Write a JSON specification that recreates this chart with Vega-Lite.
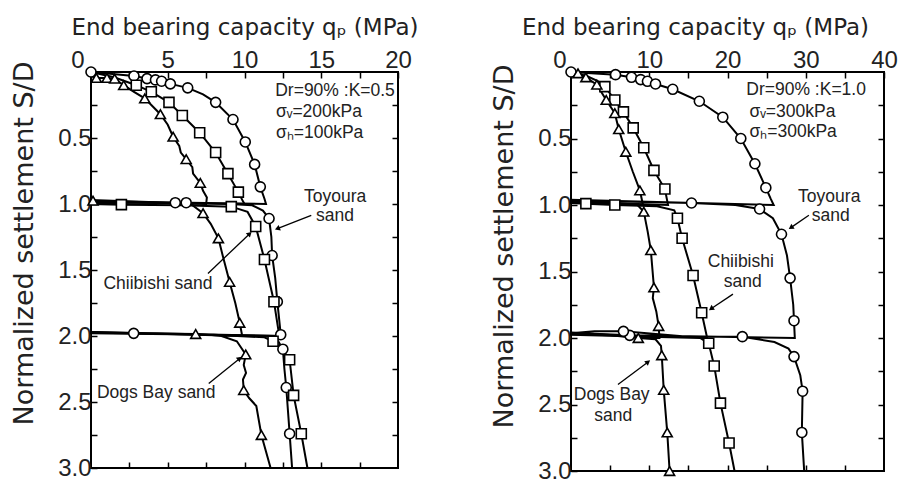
{
"$schema":"https://vega.github.io/schema/vega-lite/v6.json",
"padding":{"left":9,"top":15,"right":5,"bottom":3},
"background":"white",
"config":{"view":{"stroke":"black","strokeWidth":2},"font":"Liberation Sans",
"axis":{"labelFont":"Liberation Sans","labelColor":"#222","titleColor":"#222","labelFontSize":24,"tickColor":"black","tickWidth":1.5,"tickSize":-6,"domain":false,"grid":false,"labelOverlap":false,"titleFont":"DejaVu Sans","titleFontWeight":"normal"}},
"datasets":{
"L":[
{"s":"T","i":1,"x":0,"y":0,"m":1},{"s":"T","i":2,"x":2.8,"y":0.03,"m":1},{"s":"T","i":3,"x":3.65,"y":0.05,"m":1},{"s":"T","i":4,"x":4.2,"y":0.06,"m":1},{"s":"T","i":5,"x":4.6,"y":0.07,"m":1},{"s":"T","i":6,"x":5.17,"y":0.09,"m":1},{"s":"T","i":7,"x":6.3,"y":0.12,"m":1},{"s":"T","i":8,"x":7.3,"y":0.17,"m":0},{"s":"T","i":9,"x":8.12,"y":0.23,"m":1},{"s":"T","i":10,"x":9.25,"y":0.36,"m":1},{"s":"T","i":11,"x":10.05,"y":0.53,"m":1},{"s":"T","i":12,"x":10.66,"y":0.7,"m":1},{"s":"T","i":13,"x":11.03,"y":0.87,"m":1},{"s":"T","i":14,"x":11.3,"y":0.96,"m":0},{"s":"T","i":15,"x":11.4,"y":1.0,"m":0},{"s":"T","i":16,"x":0,"y":0.98,"m":0},{"s":"T","i":17,"x":0,"y":0.995,"m":0},{"s":"T","i":18,"x":3,"y":0.99,"m":0},{"s":"T","i":19,"x":5.49,"y":0.99,"m":1},{"s":"T","i":20,"x":6.2,"y":0.99,"m":1},{"s":"T","i":21,"x":9,"y":1.0,"m":0},{"s":"T","i":22,"x":10.5,"y":1.01,"m":0},{"s":"T","i":23,"x":11.2,"y":1.05,"m":0},{"s":"T","i":24,"x":11.6,"y":1.11,"m":1},{"s":"T","i":25,"x":11.75,"y":1.25,"m":0},{"s":"T","i":26,"x":11.8,"y":1.39,"m":1},{"s":"T","i":27,"x":12.0,"y":1.56,"m":0},{"s":"T","i":28,"x":12.14,"y":1.74,"m":1},{"s":"T","i":29,"x":12.36,"y":1.99,"m":1},{"s":"T","i":30,"x":12.4,"y":2.0,"m":0},{"s":"T","i":31,"x":0,"y":1.97,"m":0},{"s":"T","i":32,"x":0,"y":1.975,"m":0},{"s":"T","i":33,"x":2.78,"y":1.98,"m":1},{"s":"T","i":34,"x":8,"y":1.99,"m":0},{"s":"T","i":35,"x":11.5,"y":2.0,"m":0},{"s":"T","i":36,"x":12.2,"y":2.04,"m":0},{"s":"T","i":37,"x":12.5,"y":2.1,"m":1},{"s":"T","i":38,"x":12.6,"y":2.25,"m":0},{"s":"T","i":39,"x":12.72,"y":2.39,"m":1},{"s":"T","i":40,"x":12.94,"y":2.74,"m":1},{"s":"T","i":41,"x":13.1,"y":3.0,"m":0},
{"s":"C","i":1,"x":0,"y":0,"m":0},{"s":"C","i":2,"x":1.5,"y":0.04,"m":0},{"s":"C","i":3,"x":2.95,"y":0.1,"m":1},{"s":"C","i":4,"x":3.93,"y":0.15,"m":1},{"s":"C","i":5,"x":5.08,"y":0.23,"m":1},{"s":"C","i":6,"x":5.95,"y":0.33,"m":1},{"s":"C","i":7,"x":7.08,"y":0.46,"m":1},{"s":"C","i":8,"x":8.12,"y":0.61,"m":1},{"s":"C","i":9,"x":8.92,"y":0.77,"m":1},{"s":"C","i":10,"x":9.6,"y":0.91,"m":1},{"s":"C","i":11,"x":9.9,"y":0.98,"m":0},{"s":"C","i":12,"x":10.0,"y":1.0,"m":0},{"s":"C","i":13,"x":0,"y":0.985,"m":0},{"s":"C","i":14,"x":0,"y":1.0,"m":0},{"s":"C","i":15,"x":1.98,"y":1.005,"m":1},{"s":"C","i":16,"x":6,"y":1.01,"m":0},{"s":"C","i":17,"x":9.14,"y":1.02,"m":1},{"s":"C","i":18,"x":10.2,"y":1.06,"m":0},{"s":"C","i":19,"x":10.73,"y":1.17,"m":1},{"s":"C","i":20,"x":11.3,"y":1.42,"m":1},{"s":"C","i":21,"x":11.92,"y":1.74,"m":1},{"s":"C","i":22,"x":12.2,"y":1.95,"m":0},{"s":"C","i":23,"x":12.3,"y":2.0,"m":0},{"s":"C","i":24,"x":0,"y":1.975,"m":0},{"s":"C","i":25,"x":0,"y":1.98,"m":0},{"s":"C","i":26,"x":8,"y":1.99,"m":0},{"s":"C","i":27,"x":11.3,"y":2.01,"m":0},{"s":"C","i":28,"x":11.86,"y":2.04,"m":1},{"s":"C","i":29,"x":12.4,"y":2.09,"m":0},{"s":"C","i":30,"x":12.94,"y":2.18,"m":1},{"s":"C","i":31,"x":13.2,"y":2.45,"m":1},{"s":"C","i":32,"x":13.7,"y":2.74,"m":1},{"s":"C","i":33,"x":14.1,"y":3.0,"m":0},
{"s":"D","i":1,"x":0,"y":0.03,"m":0},{"s":"D","i":2,"x":0.35,"y":0.045,"m":1},{"s":"D","i":3,"x":1.04,"y":0.045,"m":1},{"s":"D","i":4,"x":1.54,"y":0.05,"m":1},{"s":"D","i":5,"x":2.13,"y":0.1,"m":1},{"s":"D","i":6,"x":2.8,"y":0.15,"m":0},{"s":"D","i":7,"x":3.5,"y":0.2,"m":1},{"s":"D","i":8,"x":4.52,"y":0.32,"m":1},{"s":"D","i":9,"x":5.0,"y":0.4,"m":0},{"s":"D","i":10,"x":5.35,"y":0.49,"m":1},{"s":"D","i":11,"x":5.75,"y":0.56,"m":0},{"s":"D","i":12,"x":5.85,"y":0.61,"m":0},{"s":"D","i":13,"x":6.2,"y":0.66,"m":1},{"s":"D","i":14,"x":6.6,"y":0.72,"m":0},{"s":"D","i":15,"x":6.65,"y":0.77,"m":0},{"s":"D","i":16,"x":7.12,"y":0.84,"m":1},{"s":"D","i":17,"x":7.3,"y":0.9,"m":0},{"s":"D","i":18,"x":7.55,"y":0.95,"m":0},{"s":"D","i":19,"x":7.5,"y":1.0,"m":0},{"s":"D","i":20,"x":0,"y":0.97,"m":0},{"s":"D","i":21,"x":0.13,"y":0.975,"m":1},{"s":"D","i":22,"x":4,"y":0.99,"m":0},{"s":"D","i":23,"x":6.5,"y":1.0,"m":0},{"s":"D","i":24,"x":7.3,"y":1.07,"m":1},{"s":"D","i":25,"x":7.8,"y":1.15,"m":0},{"s":"D","i":26,"x":8.3,"y":1.26,"m":1},{"s":"D","i":27,"x":8.6,"y":1.4,"m":0},{"s":"D","i":28,"x":9.03,"y":1.59,"m":1},{"s":"D","i":29,"x":9.4,"y":1.75,"m":0},{"s":"D","i":30,"x":9.69,"y":1.9,"m":1},{"s":"D","i":31,"x":9.85,"y":2.0,"m":0},{"s":"D","i":32,"x":0,"y":1.97,"m":0},{"s":"D","i":33,"x":3,"y":1.98,"m":0},{"s":"D","i":34,"x":6.82,"y":1.985,"m":1},{"s":"D","i":35,"x":8.5,"y":2.0,"m":0},{"s":"D","i":36,"x":9.5,"y":2.04,"m":0},{"s":"D","i":37,"x":10.08,"y":2.14,"m":1},{"s":"D","i":38,"x":9.95,"y":2.22,"m":0},{"s":"D","i":39,"x":10.1,"y":2.28,"m":0},{"s":"D","i":40,"x":9.9,"y":2.33,"m":0},{"s":"D","i":41,"x":9.95,"y":2.41,"m":1},{"s":"D","i":42,"x":10.3,"y":2.47,"m":0},{"s":"D","i":43,"x":10.77,"y":2.53,"m":0},{"s":"D","i":44,"x":11.1,"y":2.75,"m":1},{"s":"D","i":45,"x":11.7,"y":3.0,"m":0}
],
"R":[
{"s":"T","i":1,"x":0,"y":0,"m":1},{"s":"T","i":2,"x":5.69,"y":0.02,"m":1},{"s":"T","i":3,"x":7.73,"y":0.04,"m":1},{"s":"T","i":4,"x":8.9,"y":0.057,"m":1},{"s":"T","i":5,"x":9.77,"y":0.07,"m":1},{"s":"T","i":6,"x":10.8,"y":0.09,"m":1},{"s":"T","i":7,"x":13.0,"y":0.13,"m":1},{"s":"T","i":8,"x":16.4,"y":0.22,"m":1},{"s":"T","i":9,"x":19.4,"y":0.34,"m":1},{"s":"T","i":10,"x":21.7,"y":0.5,"m":1},{"s":"T","i":11,"x":23.5,"y":0.69,"m":1},{"s":"T","i":12,"x":24.9,"y":0.87,"m":1},{"s":"T","i":13,"x":25.5,"y":0.95,"m":0},{"s":"T","i":14,"x":25.9,"y":1.0,"m":0},{"s":"T","i":15,"x":0,"y":0.96,"m":0},{"s":"T","i":16,"x":0,"y":0.97,"m":0},{"s":"T","i":17,"x":8,"y":0.975,"m":0},{"s":"T","i":18,"x":15.4,"y":0.985,"m":1},{"s":"T","i":19,"x":21,"y":1.0,"m":0},{"s":"T","i":20,"x":24.1,"y":1.03,"m":1},{"s":"T","i":21,"x":25.8,"y":1.1,"m":0},{"s":"T","i":22,"x":26.9,"y":1.22,"m":1},{"s":"T","i":23,"x":27.6,"y":1.38,"m":0},{"s":"T","i":24,"x":28.0,"y":1.55,"m":1},{"s":"T","i":25,"x":28.4,"y":1.75,"m":0},{"s":"T","i":26,"x":28.5,"y":1.87,"m":1},{"s":"T","i":27,"x":28.6,"y":2.0,"m":0},{"s":"T","i":28,"x":7.5,"y":1.98,"m":1},{"s":"T","i":29,"x":0,"y":1.96,"m":0},{"s":"T","i":30,"x":0,"y":1.965,"m":0},{"s":"T","i":31,"x":3,"y":1.95,"m":0},{"s":"T","i":32,"x":6.7,"y":1.95,"m":1},{"s":"T","i":33,"x":15,"y":1.99,"m":0},{"s":"T","i":34,"x":21.9,"y":1.99,"m":1},{"s":"T","i":35,"x":26,"y":2.03,"m":0},{"s":"T","i":36,"x":27.8,"y":2.08,"m":0},{"s":"T","i":37,"x":28.5,"y":2.14,"m":1},{"s":"T","i":38,"x":29.3,"y":2.28,"m":0},{"s":"T","i":39,"x":29.6,"y":2.4,"m":1},{"s":"T","i":40,"x":29.5,"y":2.71,"m":1},{"s":"T","i":41,"x":29.8,"y":3.0,"m":0},
{"s":"C","i":1,"x":0,"y":0,"m":0},{"s":"C","i":2,"x":2,"y":0.03,"m":0},{"s":"C","i":3,"x":3.5,"y":0.07,"m":0},{"s":"C","i":4,"x":4.33,"y":0.11,"m":1},{"s":"C","i":5,"x":5.6,"y":0.21,"m":1},{"s":"C","i":6,"x":6.7,"y":0.3,"m":1},{"s":"C","i":7,"x":7.95,"y":0.42,"m":1},{"s":"C","i":8,"x":9.3,"y":0.57,"m":1},{"s":"C","i":9,"x":10.6,"y":0.74,"m":1},{"s":"C","i":10,"x":12.0,"y":0.88,"m":1},{"s":"C","i":11,"x":12.4,"y":1.0,"m":0},{"s":"C","i":12,"x":0,"y":0.975,"m":0},{"s":"C","i":13,"x":0,"y":0.985,"m":0},{"s":"C","i":14,"x":1.9,"y":0.99,"m":1},{"s":"C","i":15,"x":5.6,"y":1.0,"m":1},{"s":"C","i":16,"x":11,"y":1.01,"m":0},{"s":"C","i":17,"x":13.2,"y":1.04,"m":0},{"s":"C","i":18,"x":13.6,"y":1.1,"m":1},{"s":"C","i":19,"x":14.2,"y":1.25,"m":1},{"s":"C","i":20,"x":15.6,"y":1.53,"m":1},{"s":"C","i":21,"x":16.7,"y":1.81,"m":1},{"s":"C","i":22,"x":17.4,"y":2.0,"m":0},{"s":"C","i":23,"x":0,"y":1.97,"m":0},{"s":"C","i":24,"x":0,"y":1.975,"m":0},{"s":"C","i":25,"x":10,"y":1.99,"m":0},{"s":"C","i":26,"x":16.5,"y":2.0,"m":0},{"s":"C","i":27,"x":17.6,"y":2.04,"m":1},{"s":"C","i":28,"x":18.3,"y":2.21,"m":1},{"s":"C","i":29,"x":19.1,"y":2.49,"m":1},{"s":"C","i":30,"x":20.2,"y":2.79,"m":1},{"s":"C","i":31,"x":20.9,"y":3.0,"m":0},
{"s":"D","i":1,"x":0,"y":0,"m":0},{"s":"D","i":2,"x":0.9,"y":0.01,"m":1},{"s":"D","i":3,"x":1.9,"y":0.04,"m":1},{"s":"D","i":4,"x":3.3,"y":0.095,"m":1},{"s":"D","i":5,"x":4.5,"y":0.21,"m":1},{"s":"D","i":6,"x":5.6,"y":0.31,"m":1},{"s":"D","i":7,"x":6.1,"y":0.43,"m":1},{"s":"D","i":8,"x":7.0,"y":0.6,"m":1},{"s":"D","i":9,"x":7.9,"y":0.75,"m":0},{"s":"D","i":10,"x":8.8,"y":0.89,"m":1},{"s":"D","i":11,"x":9.2,"y":1.0,"m":0},{"s":"D","i":12,"x":0,"y":0.965,"m":0},{"s":"D","i":13,"x":0,"y":0.975,"m":0},{"s":"D","i":14,"x":5,"y":0.99,"m":0},{"s":"D","i":15,"x":8.5,"y":1.0,"m":0},{"s":"D","i":16,"x":9.3,"y":1.05,"m":1},{"s":"D","i":17,"x":9.8,"y":1.2,"m":0},{"s":"D","i":18,"x":10.2,"y":1.34,"m":1},{"s":"D","i":19,"x":10.6,"y":1.62,"m":1},{"s":"D","i":20,"x":10.45,"y":1.7,"m":0},{"s":"D","i":21,"x":10.9,"y":1.8,"m":0},{"s":"D","i":22,"x":11.2,"y":1.91,"m":1},{"s":"D","i":23,"x":11.3,"y":2.0,"m":0},{"s":"D","i":24,"x":0,"y":1.96,"m":0},{"s":"D","i":25,"x":0,"y":1.97,"m":0},{"s":"D","i":26,"x":5,"y":1.98,"m":0},{"s":"D","i":27,"x":8.6,"y":2.0,"m":1},{"s":"D","i":28,"x":10.8,"y":2.01,"m":0},{"s":"D","i":29,"x":11.5,"y":2.06,"m":0},{"s":"D","i":30,"x":11.6,"y":2.13,"m":1},{"s":"D","i":31,"x":11.85,"y":2.39,"m":1},{"s":"D","i":32,"x":12.3,"y":2.71,"m":1},{"s":"D","i":33,"x":12.6,"y":3.0,"m":1}
],
"LBox":[{"x":12.0,"y":0.147,"t":"Dr=90% :K=0.5"},{"x":12.05,"y":0.3,"t":"σᵥ=200kPa"},{"x":12.05,"y":0.46,"t":"σₕ=100kPa"}],
"LLab":[{"x":15.9,"y":0.947,"t":"Toyoura"},{"x":15.9,"y":1.093,"t":"sand"},{"x":4.36,"y":1.607,"t":"Chiibishi sand"},{"x":4.25,"y":2.43,"t":"Dogs Bay sand"}],
"LArr":[{"x":14.35,"y":1.086,"x2":12.14,"y2":1.187,"a":248.6},{"x":7.62,"y":1.526,"x2":10.34,"y2":1.225,"a":46.4},{"x":7.67,"y":2.36,"x2":9.69,"y2":2.17,"a":51.1}],
"RBox":[{"x":22.4,"y":0.134,"t":"Dr=90% :K=1.0"},{"x":22.8,"y":0.3,"t":"σᵥ=300kPa"},{"x":22.8,"y":0.45,"t":"σₕ=300kPa"}],
"RLab":[{"x":33.0,"y":0.94,"t":"Toyoura"},{"x":33.2,"y":1.08,"t":"sand"},{"x":21.7,"y":1.43,"t":"Chiibishi"},{"x":21.95,"y":1.58,"t":"sand"},{"x":5.2,"y":2.43,"t":"Dogs Bay"},{"x":5.4,"y":2.59,"t":"sand"}],
"RArr":[{"x":30.4,"y":1.077,"x2":28.1,"y2":1.17,"a":236},{"x":20.7,"y":1.67,"x2":17.9,"y2":1.78,"a":235},{"x":6.0,"y":2.35,"x2":9.85,"y2":2.18,"a":52}]
},
"spacing":69,
"hconcat":[
{
"width":307,"height":396,
"resolve":{"scale":{"x":"independent","y":"independent"}},
"layer":[
{
"encoding":{
"x":{"field":"x","type":"quantitative","scale":{"domain":[0,20],"nice":false,"zero":false},
"axis":{"orient":"top","values":[0,2.5,5,7.5,10,12.5,15,17.5,20],"labelExpr":"datum.value % 5 == 0 ? datum.label : ''","labelPadding":6,"labelAlign":{"condition":{"test":"datum.value == 0","value":"right"},"value":"center"},"labelOffset":{"condition":{"test":"datum.value == 0","value":-7},"value":0},"title":"End bearing capacity qₚ (MPa)","titleFontSize":23,"titlePadding":9}},
"y":{"field":"y","type":"quantitative","scale":{"domain":[0,3],"reverse":true,"nice":false,"zero":false},
"axis":{"orient":"left","values":[0,0.25,0.5,0.75,1,1.25,1.5,1.75,2,2.25,2.5,2.75,3],"labelExpr":"datum.value > 0 && (datum.value*2) % 1 == 0 ? format(datum.value,'.1f') : ''","labelPadding":6,"title":"Normalized settlement S/D","titleFontSize":27,"titlePadding":19,"titleY":171}}
},
"layer":[
{"data":{"name":"L"},"mark":{"type":"line","color":"black","strokeWidth":2},"encoding":{"detail":{"field":"s"},"order":{"field":"i","type":"quantitative"}}},
{"data":{"name":"L"},"transform":[{"filter":"datum.m == 1"}],"mark":{"type":"point","filled":true,"fill":"white","stroke":"black","strokeWidth":1.6,"size":100,"opacity":1},"encoding":{"shape":{"field":"s","type":"nominal","scale":{"domain":["T","C","D"],"range":["circle","square","triangle-up"]},"legend":null}}},
{"data":{"name":"LBox"},"mark":{"type":"text","align":"left","baseline":"middle","fontSize":17.5,"color":"#222"},"encoding":{"text":{"field":"t"}}},
{"data":{"name":"LLab"},"mark":{"type":"text","align":"center","baseline":"middle","fontSize":17.5,"color":"#222"},"encoding":{"text":{"field":"t"}}},
{"data":{"name":"LArr"},"mark":{"type":"rule","color":"black","strokeWidth":1.3},"encoding":{"x2":{"field":"x2"},"y2":{"field":"y2"}}},
{"data":{"name":"LArr"},"mark":{"type":"point","shape":"triangle-up","filled":true,"color":"black","size":35,"opacity":1},"encoding":{"x":{"field":"x2","type":"quantitative"},"y":{"field":"y2","type":"quantitative"},"angle":{"field":"a","type":"quantitative","scale":null}}}
]
},
{
"data":{"name":"L"},
"mark":{"type":"point","opacity":0},
"encoding":{
"x":{"field":"x","type":"quantitative","scale":{"domain":[0,20],"nice":false,"zero":false},"axis":{"orient":"bottom","values":[2.5,5,7.5,10,12.5,15,17.5],"labels":false,"title":null}},
"y":{"field":"y","type":"quantitative","scale":{"domain":[0,3],"reverse":true,"nice":false,"zero":false},"axis":{"orient":"right","values":[0.25,0.5,0.75,1,1.25,1.5,1.75,2,2.25,2.5,2.75],"labels":false,"title":null}}
}
}
]
},
{
"width":313,"height":399,
"resolve":{"scale":{"x":"independent","y":"independent"}},
"layer":[
{
"encoding":{
"x":{"field":"x","type":"quantitative","scale":{"domain":[0,40],"nice":false,"zero":false},
"axis":{"orient":"top","values":[0,5,10,15,20,25,30,35,40],"labelExpr":"datum.value % 10 == 0 ? datum.label : ''","labelPadding":6,"labelAlign":{"condition":{"test":"datum.value == 0","value":"right"},"value":"center"},"labelOffset":{"condition":{"test":"datum.value == 0","value":-5},"value":0},"title":"End bearing capacity qₚ (MPa)","titleFontSize":23,"titlePadding":9,"titleX":124}},
"y":{"field":"y","type":"quantitative","scale":{"domain":[0,3],"reverse":true,"nice":false,"zero":false},
"axis":{"orient":"left","values":[0,0.25,0.5,0.75,1,1.25,1.5,1.75,2,2.25,2.5,2.75,3],"labelExpr":"datum.value > 0 && (datum.value*2) % 1 == 0 ? format(datum.value,'.1f') : ''","labelPadding":6,"title":"Normalized settlement S/D","titleFontSize":27,"titlePadding":19,"titleY":174}}
},
"layer":[
{"data":{"name":"R"},"mark":{"type":"line","color":"black","strokeWidth":2},"encoding":{"detail":{"field":"s"},"order":{"field":"i","type":"quantitative"}}},
{"data":{"name":"R"},"transform":[{"filter":"datum.m == 1"}],"mark":{"type":"point","filled":true,"fill":"white","stroke":"black","strokeWidth":1.6,"size":100,"opacity":1},"encoding":{"shape":{"field":"s","type":"nominal","scale":{"domain":["T","C","D"],"range":["circle","square","triangle-up"]},"legend":null}}},
{"data":{"name":"RBox"},"mark":{"type":"text","align":"left","baseline":"middle","fontSize":17.5,"color":"#222"},"encoding":{"text":{"field":"t"}}},
{"data":{"name":"RLab"},"mark":{"type":"text","align":"center","baseline":"middle","fontSize":17.5,"color":"#222"},"encoding":{"text":{"field":"t"}}},
{"data":{"name":"RArr"},"mark":{"type":"rule","color":"black","strokeWidth":1.3},"encoding":{"x2":{"field":"x2"},"y2":{"field":"y2"}}},
{"data":{"name":"RArr"},"mark":{"type":"point","shape":"triangle-up","filled":true,"color":"black","size":35,"opacity":1},"encoding":{"x":{"field":"x2","type":"quantitative"},"y":{"field":"y2","type":"quantitative"},"angle":{"field":"a","type":"quantitative","scale":null}}}
]
},
{
"data":{"name":"R"},
"mark":{"type":"point","opacity":0},
"encoding":{
"x":{"field":"x","type":"quantitative","scale":{"domain":[0,40],"nice":false,"zero":false},"axis":{"orient":"bottom","values":[5,10,15,20,25,30,35],"labels":false,"title":null}},
"y":{"field":"y","type":"quantitative","scale":{"domain":[0,3],"reverse":true,"nice":false,"zero":false},"axis":{"orient":"right","values":[0.25,0.5,0.75,1,1.25,1.5,1.75,2,2.25,2.5,2.75],"labels":false,"title":null}}
}
}
]
}
]
}
